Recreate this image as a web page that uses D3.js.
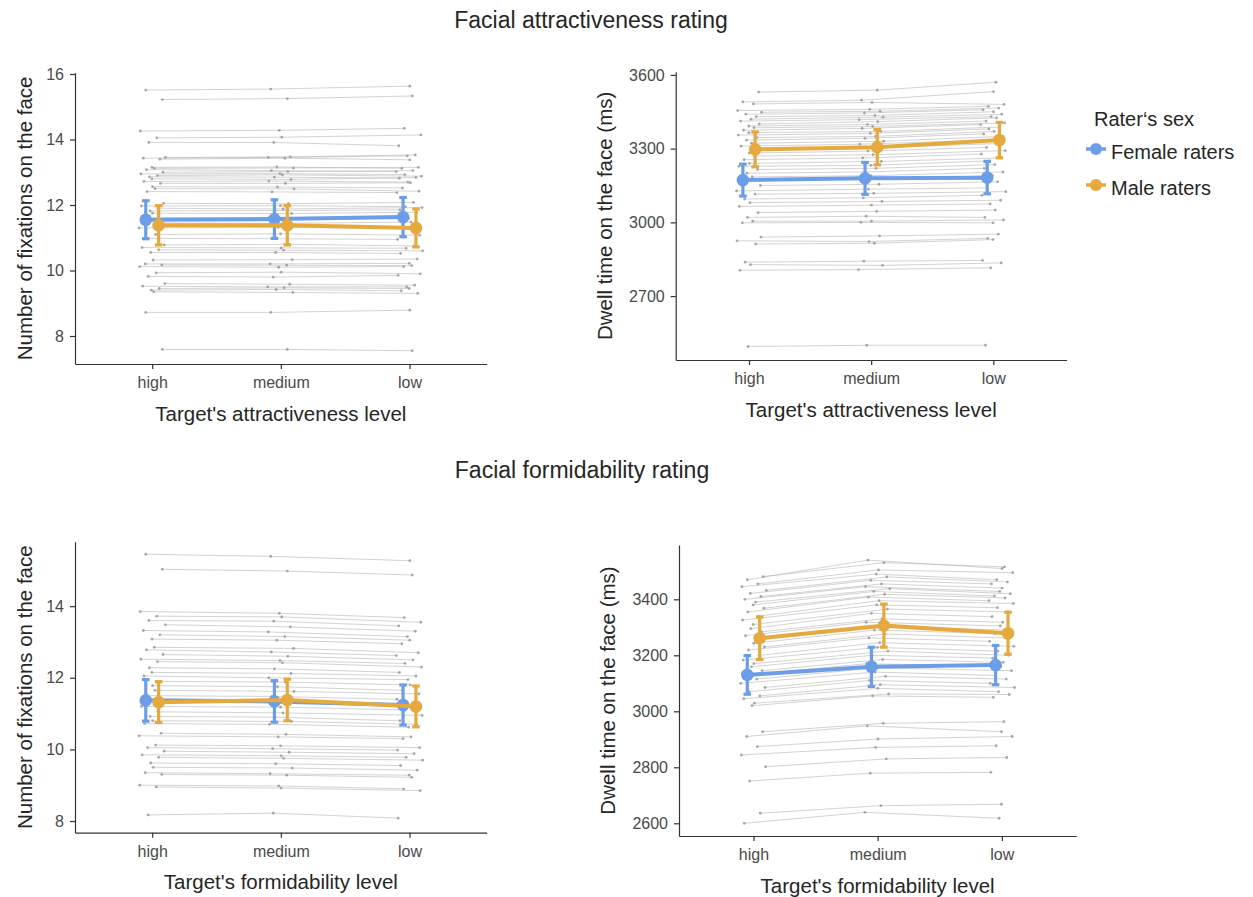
<!DOCTYPE html>
<html>
<head>
<meta charset="utf-8">
<script src="https://cdn.jsdelivr.net/npm/d3@7"></script>
<style>
  body { margin: 0; background: #fff; }
  svg { display: block; font-family: "Liberation Sans", Arial, Helvetica, sans-serif; }
</style>
</head>
<body>
<svg id="chart" width="1253" height="897"></svg>
<script>
// ---- categories ----
const levels = ["high", "medium", "low"];
const sexLabels = ["Female raters", "Male raters"];

// ---- attractiveness: number of fixations, per participant [high, medium, low] ----
const attrFixFemale = [
  [15.51,15.54,15.63],[14.26,14.28,14.34],[13.91,13.91,13.81],[13.43,13.45,13.50],
  [13.15,13.16,13.12],[13.08,13.05,13.02],[12.95,12.96,12.93],[12.86,12.85,12.82],
  [12.72,12.73,12.70],[12.56,12.55,12.52],[12.41,12.40,12.38],[11.97,11.98,11.95],
  [11.82,11.83,11.85],[11.60,11.62,11.58],[11.30,11.32,11.28],[10.98,10.97,10.95],
  [10.70,10.69,10.68],[10.55,10.55,10.52],[10.20,10.20,10.22],[10.12,10.10,10.12],
  [9.82,9.80,9.85],[9.52,9.50,9.50],[9.40,9.42,9.38],[8.72,8.72,8.79]
];
const attrFixMale = [
  [15.22,15.25,15.33],[14.05,14.07,14.14],[13.45,13.47,13.53],[13.40,13.43,13.38],
  [13.12,13.13,13.15],[13.00,13.02,13.05],[12.90,12.92,12.88],[12.80,12.78,12.84],
  [12.66,12.66,12.68],[12.50,12.49,12.42],[12.05,12.04,12.08],[11.90,11.88,11.92],
  [11.75,11.74,11.78],[11.45,11.44,11.48],[11.10,11.12,11.08],[10.78,10.80,10.75],
  [10.63,10.62,10.60],[10.32,10.33,10.35],[10.17,10.16,10.15],[9.93,9.95,9.90],
  [9.60,9.58,9.55],[9.45,9.47,9.45],[9.35,9.33,9.30],[7.59,7.59,7.55]
];
const attrFixMeanF = [11.55, 11.57, 11.63];
const attrFixErrF  = [0.58, 0.59, 0.60];
const attrFixMeanM = [11.38, 11.38, 11.30];
const attrFixErrM  = [0.60, 0.60, 0.58];

// ---- attractiveness: dwell time (ms) ----
const attrDwellFemale = [
  [3490,3497,3532],[3455,3460,3472],[3440,3445,3458],[3412,3418,3430],
  [3392,3398,3412],[3375,3382,3398],[3355,3362,3380],[3335,3342,3360],
  [3310,3318,3335],[3282,3290,3305],[3255,3262,3278],[3228,3232,3250],
  [3200,3205,3220],[3170,3175,3190],[3128,3135,3140],[3095,3100,3110],
  [3065,3070,3075],[3020,3025,3020],[2998,3000,2998],[2925,2922,2935],
  [2838,2842,2845],[2805,2808,2815],[2495,2500,2500]
];
const attrDwellMale = [
  [3530,3538,3570],[3482,3488,3480],[3448,3452,3465],[3430,3435,3450],
  [3420,3428,3440],[3400,3410,3425],[3385,3390,3405],[3365,3370,3388],
  [3345,3350,3370],[3322,3330,3350],[3295,3305,3320],[3270,3275,3292],
  [3240,3248,3262],[3215,3220,3235],[3185,3190,3205],[3150,3155,3165],
  [3115,3118,3125],[3080,3085,3090],[3040,3045,3050],[3005,3005,3010],
  [2940,2945,2952],[2912,2915,2930],[2828,2825,2835]
];
const attrDwellMeanF = [3172, 3179, 3182];
const attrDwellErrF  = [65, 65, 66];
const attrDwellMeanM = [3297, 3306, 3335];
const attrDwellErrM  = [71, 72, 72];

// ---- formidability: number of fixations ----
const formFixFemale = [
  [15.45,15.39,15.27],[13.85,13.80,13.68],[13.60,13.58,13.45],[13.32,13.28,13.15],
  [13.08,13.05,12.95],[12.78,12.72,12.62],[12.52,12.48,12.40],[12.28,12.25,12.15],
  [12.05,12.00,11.95],[11.78,11.75,11.65],[11.50,11.48,11.40],[11.20,11.18,11.10],
  [10.92,10.90,10.80],[10.72,10.70,10.62],[10.38,10.35,10.30],[10.05,10.02,9.98],
  [9.85,9.82,9.78],[9.62,9.60,9.55],[9.35,9.32,9.28],[9.00,8.98,8.90],
  [8.17,8.22,8.08]
];
const formFixMale = [
  [15.03,14.98,14.87],[13.72,13.70,13.55],[13.48,13.42,13.30],[13.20,13.15,13.05],
  [12.85,12.82,12.70],[12.65,12.60,12.50],[12.45,12.42,12.30],[12.15,12.12,12.05],
  [11.90,11.88,11.80],[11.65,11.62,11.55],[11.35,11.30,11.22],[11.05,11.02,10.95],
  [10.80,10.78,10.70],[10.45,10.42,10.35],[10.12,10.10,10.05],[9.95,9.92,9.88],
  [9.78,9.75,9.70],[9.50,9.48,9.42],[9.30,9.28,9.22],[8.95,8.92,8.85]
];
const formFixMeanF = [11.37, 11.34, 11.24];
const formFixErrF  = [0.58, 0.58, 0.56];
const formFixMeanM = [11.32, 11.38, 11.20];
const formFixErrM  = [0.57, 0.58, 0.57];

// ---- formidability: dwell time (ms) ----
const formDwellFemale = [
  [3470,3540,3510],[3445,3490,3470],[3421,3468,3455],[3400,3445,3428],
  [3380,3428,3412],[3355,3408,3395],[3326,3380,3370],[3295,3350,3338],
  [3270,3318,3305],[3243,3290,3278],[3219,3262,3250],[3183,3228,3215],
  [3159,3200,3190],[3130,3170,3160],[3100,3140,3128],[3070,3110,3100],
  [3045,3082,3070],[3020,3055,3050],[2910,2948,2927],[2844,2871,2877],
  [2751,2779,2782],[2600,2639,2618]
];
const formDwellMale = [
  [3481,3531,3516],[3455,3505,3495],[3432,3480,3462],[3410,3455,3440],
  [3390,3438,3420],[3368,3418,3405],[3340,3395,3385],[3310,3365,3355],
  [3284,3330,3318],[3255,3302,3290],[3230,3276,3262],[3200,3245,3232],
  [3170,3215,3200],[3145,3185,3175],[3115,3155,3145],[3085,3125,3115],
  [3055,3095,3085],[3029,3062,3060],[2927,2957,2963],[2874,2901,2910],
  [2802,2830,2835],[2636,2663,2668]
];
const formDwellMeanF = [3130, 3159, 3165];
const formDwellErrF  = [69, 70, 70];
const formDwellMeanM = [3261, 3306, 3279];
const formDwellErrM  = [76, 77, 75];

// ---- axis ticks ----
const attrFixTicks = [8, 10, 12, 14, 16];
const attrDwellTicks = [2700, 3000, 3300, 3600];
const formFixTicks = [8, 10, 12, 14];
const formDwellTicks = [2600, 2800, 3000, 3200, 3400];

// ---- styling ----
const sexColors = ["#6c9de8", "#e6a93d"];
const svg = d3.select("#chart");

const panels = [
  { left: 75, right: 486.7, top: 72.7, bottom: 364, yDomain: [7.145, 16.04], ticks: attrFixTicks,
    female: attrFixFemale, male: attrFixMale, meanF: attrFixMeanF, errF: attrFixErrF, meanM: attrFixMeanM, errM: attrFixErrM,
    xTitle: "Target's attractiveness level", yTitle: "Number of fixations on the face", yTitleX: 31.5 },
  { left: 675.7, right: 1066.6, top: 71.7, bottom: 360, yDomain: [2440, 3613], ticks: attrDwellTicks,
    female: attrDwellFemale, male: attrDwellMale, meanF: attrDwellMeanF, errF: attrDwellErrF, meanM: attrDwellMeanM, errM: attrDwellErrM,
    xTitle: "Target's attractiveness level", yTitle: "Dwell time on the face (ms)", yTitleX: 612 },
  { left: 75, right: 486.7, top: 541.7, bottom: 832.7, yDomain: [7.674, 15.80], ticks: formFixTicks,
    female: formFixFemale, male: formFixMale, meanF: formFixMeanF, errF: formFixErrF, meanM: formFixMeanM, errM: formFixErrM,
    xTitle: "Target's formidability level", yTitle: "Number of fixations on the face", yTitleX: 31.5 },
  { left: 679, right: 1076.3, top: 545, bottom: 836, yDomain: [2554.6, 3594], ticks: formDwellTicks,
    female: formDwellFemale, male: formDwellMale, meanF: formDwellMeanF, errF: formDwellErrF, meanM: formDwellMeanM, errM: formDwellErrM,
    xTitle: "Target's formidability level", yTitle: "Dwell time on the face (ms)", yTitleX: 615 }
];

function drawPanel(p) {
  const x = d3.scalePoint().domain(levels).range([p.left, p.right]).padding(0.6);
  const y = d3.scaleLinear().domain(p.yDomain).range([p.bottom, p.top]);
  const step = x.step();
  const dodge = step * 0.05;
  const g = svg.append("g");

  // individual participants: thin grey connecting lines with small dots
  const groups = [{ rows: p.female, side: -1 }, { rows: p.male, side: 1 }];
  const indiv = [];
  groups.forEach((grp, gi) => {
    grp.rows.forEach((row, i) => {
      const pts = row.map((v, j) => {
        const u = ((i * 37 + j * 17 + gi * 29 + 11) % 23) / 22;
        return [x(levels[j]) + grp.side * dodge + (u - 0.5) * 2.1 * dodge, y(v)];
      });
      indiv.push(pts);
    });
  });
  g.append("g").selectAll("path").data(indiv).join("path")
    .attr("d", d => d3.line()(d))
    .attr("fill", "none").attr("stroke", "#b5b5b5")
    .attr("stroke-opacity", 0.7).attr("stroke-width", 0.85);
  g.append("g").selectAll("circle").data(indiv.flat()).join("circle")
    .attr("cx", d => d[0]).attr("cy", d => d[1]).attr("r", 1.4)
    .attr("fill", "#9a9a9a").attr("fill-opacity", 0.85);

  // group means with error bars
  const summaries = [
    { mean: p.meanF, err: p.errF, side: -1, color: sexColors[0] },
    { mean: p.meanM, err: p.errM, side: 1, color: sexColors[1] }
  ];
  summaries.forEach(s => {
    const sg = g.append("g");
    const pts = s.mean.map((m, j) => [x(levels[j]) + s.side * dodge, m, s.err[j]]);
    sg.append("path")
      .attr("d", d3.line().x(d => d[0]).y(d => y(d[1]))(pts))
      .attr("fill", "none").attr("stroke", s.color).attr("stroke-width", 4);
    sg.selectAll("line.bar").data(pts).join("line").attr("class", "bar")
      .attr("x1", d => d[0]).attr("x2", d => d[0])
      .attr("y1", d => y(d[1] - d[2])).attr("y2", d => y(d[1] + d[2]))
      .attr("stroke", s.color).attr("stroke-width", 3.2);
    [1, -1].forEach(sign => {
      sg.selectAll(null).data(pts).join("line")
        .attr("x1", d => d[0] - 3.8).attr("x2", d => d[0] + 3.8)
        .attr("y1", d => y(d[1] + sign * d[2])).attr("y2", d => y(d[1] + sign * d[2]))
        .attr("stroke", s.color).attr("stroke-width", 3.2);
    });
    sg.selectAll("circle").data(pts).join("circle")
      .attr("cx", d => d[0]).attr("cy", d => y(d[1])).attr("r", 6.3)
      .attr("fill", s.color);
  });

  // axes
  const xa = g.append("g").attr("transform", `translate(0,${p.bottom})`)
    .call(d3.axisBottom(x).tickSize(5).tickSizeOuter(0).tickPadding(8));
  const ya = g.append("g").attr("transform", `translate(${p.left},0)`)
    .call(d3.axisLeft(y).tickValues(p.ticks).tickFormat(d3.format("d")).tickSize(5).tickSizeOuter(0).tickPadding(6));
  [xa, ya].forEach(a => {
    a.select(".domain").attr("stroke", "#333").attr("stroke-width", 1.2);
    a.selectAll(".tick line").attr("stroke", "#333").attr("stroke-width", 1.2);
    a.selectAll(".tick text").attr("fill", "#4a4a4a").style("font-size", "16px")
      .style("font-family", "'Liberation Sans', Arial, sans-serif");
  });

  g.append("text")
    .attr("x", (p.left + p.right) / 2).attr("y", p.bottom + 56.5)
    .attr("text-anchor", "middle").attr("fill", "#262626").style("font-size", "20.5px")
    .text(p.xTitle);
  g.append("text")
    .attr("transform", `translate(${p.yTitleX},${(p.top + p.bottom) / 2}) rotate(-90)`)
    .attr("text-anchor", "middle").attr("fill", "#262626").style("font-size", "20.5px")
    .text(p.yTitle);
}

panels.forEach(drawPanel);

// section titles
svg.append("text").attr("x", 591).attr("y", 28).attr("text-anchor", "middle")
  .attr("fill", "#262626").style("font-size", "23px").text("Facial attractiveness rating");
svg.append("text").attr("x", 582).attr("y", 478).attr("text-anchor", "middle")
  .attr("fill", "#262626").style("font-size", "23px").text("Facial formidability rating");

// legend
const legend = svg.append("g");
legend.append("text").attr("x", 1094).attr("y", 126).attr("fill", "#262626")
  .style("font-size", "20px").text("Rater\u2018s sex");
sexLabels.forEach((lab, i) => {
  const cy = 149 + i * 36;
  legend.append("line").attr("x1", 1086).attr("x2", 1106).attr("y1", cy).attr("y2", cy)
    .attr("stroke", sexColors[i]).attr("stroke-width", 3.5);
  legend.append("circle").attr("cx", 1096).attr("cy", cy).attr("r", 6).attr("fill", sexColors[i]);
  legend.append("text").attr("x", 1111).attr("y", cy + 9.5).attr("fill", "#262626")
    .style("font-size", "20px").text(lab);
});
</script>
</body>
</html>
